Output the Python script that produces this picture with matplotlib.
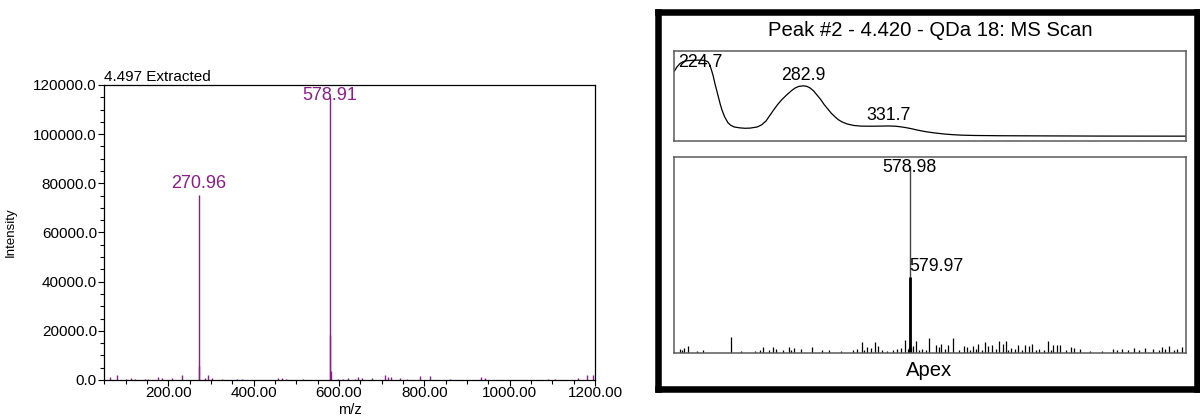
import numpy as np
import matplotlib
matplotlib.use("Agg")
import matplotlib.pyplot as plt
from matplotlib.ticker import MultipleLocator, FormatStrFormatter

plt.rcParams['font.family'] = ['Liberation Sans', 'DejaVu Sans']

purple = '#8C1C8C'

# left spectrum: 4.497 extracted
peak_mz_l = [270.96, 271.96, 578.91, 579.91, 580.9]
peak_h_l = [75300, 5800, 115000, 18500, 3500]
peak_lab_l = ['270.96', '578.91']
noise_mz_l = [63, 79, 102, 112, 122, 145, 153, 177, 185, 208, 231, 286, 294, 302, 325,
              360, 372, 458, 466, 477, 516, 598, 610, 622, 638, 645, 653, 677, 708, 716,
              723, 743, 759, 790, 813, 860, 934, 942, 1091, 1106, 1161, 1181, 1196]
noise_h_l = [1300, 2200, 600, 900, 600, 400, 500, 1300, 700, 1000, 1900, 1000, 2200, 800, 600,
             400, 400, 1000, 700, 500, 400, 600, 500, 1000, 600, 1100, 900, 700, 1900, 1400,
             1100, 900, 500, 1500, 1700, 500, 1300, 700, 400, 500, 1000, 1900, 2200]

# right top: UV spectrum (nm, absorbance)
uv_nm = [210, 211.5, 213.2, 215, 217, 219, 222, 224.7, 227, 229, 230, 231, 232, 233, 234,
         235, 236, 237, 238.5, 240.4, 242, 244, 247, 250, 253, 257, 259.5, 262, 264, 266,
         268.5, 271, 274, 276.5, 278.5, 280.5, 282.9, 285, 287, 289, 291, 293, 295, 297,
         299, 301, 303, 305, 308, 312, 316, 321, 326, 331.7, 336, 340, 344, 348, 352.6,
         357, 363, 368, 372.5, 380, 394.5, 420, 451, 500]
uv_abs = [0.76, 0.81, 0.85, 0.872, 0.882, 0.886, 0.889, 0.89, 0.887, 0.872, 0.84, 0.78,
          0.71, 0.62, 0.54, 0.46, 0.38, 0.31, 0.23, 0.16, 0.13, 0.11, 0.10, 0.095, 0.097,
          0.11, 0.135, 0.18, 0.24, 0.30, 0.37, 0.43, 0.49, 0.535, 0.565, 0.583, 0.59,
          0.585, 0.565, 0.53, 0.48, 0.43, 0.37, 0.32, 0.27, 0.23, 0.195, 0.17, 0.145,
          0.127, 0.12, 0.119, 0.12, 0.122, 0.118, 0.107, 0.092, 0.073, 0.055, 0.042,
          0.028, 0.02, 0.015, 0.011, 0.008, 0.006, 0.004, 0.003]
uv_peaks = [224.7, 282.9, 331.7]

# right bottom: apex MS scan (relative)
ms_mz = [578.98, 579.97]
ms_h = [1.0, 0.407]
ms_noise_mz = [62, 68, 72, 80, 101, 114, 178, 200, 232, 242, 250, 262, 271, 279, 295, 307,
               313, 319, 334, 359, 382, 397, 425, 452, 461, 471, 477, 484, 492, 500, 508,
               516, 528, 541, 551, 560, 568, 576, 577.5, 580.9, 582, 587, 593, 599, 606,
               615, 623, 638, 645, 650, 658, 665, 677, 690, 701, 709, 715, 721, 727, 733,
               741, 748, 756, 764, 772, 780, 788, 795, 801, 807, 816, 823, 831, 839, 847,
               855, 862, 870, 882, 890, 896, 902, 910, 918, 930, 941, 948, 961, 985, 1012,
               1036, 1045, 1056, 1070, 1083, 1095, 1107, 1126, 1140, 1146, 1153, 1162, 1172,
               1180, 1190]
ms_noise_h = [0.02, 0.015, 0.025, 0.035, 0.01, 0.015, 0.085, 0.008, 0.01, 0.012, 0.033,
              0.012, 0.03, 0.02, 0.015, 0.03, 0.012, 0.025, 0.02, 0.03, 0.015, 0.012, 0.01,
              0.012, 0.02, 0.057, 0.015, 0.03, 0.025, 0.06, 0.035, 0.015, 0.01, 0.012, 0.02,
              0.025, 0.07, 0.02, 0.03, 0.06, 0.03, 0.035, 0.062, 0.015, 0.02, 0.015, 0.08,
              0.04, 0.03, 0.045, 0.02, 0.04, 0.077, 0.015, 0.035, 0.03, 0.015, 0.035, 0.02,
              0.045, 0.015, 0.06, 0.035, 0.04, 0.02, 0.062, 0.045, 0.062, 0.015, 0.025,
              0.02, 0.04, 0.015, 0.04, 0.035, 0.045, 0.015, 0.02, 0.012, 0.065, 0.015, 0.04,
              0.04, 0.04, 0.012, 0.03, 0.025, 0.02, 0.01, 0.01, 0.02, 0.015, 0.02, 0.012,
              0.025, 0.012, 0.025, 0.02, 0.015, 0.03, 0.02, 0.035, 0.015, 0.02, 0.03]

fig = plt.figure(figsize=(12, 4.19), dpi=100)

# ---- left chart
ax = fig.add_axes([0.0869, 0.0931, 0.4089, 0.7041])
ax.vlines(noise_mz_l, 0, noise_h_l, color=purple, lw=1)
ax.vlines(peak_mz_l, 0, peak_h_l, color=purple, lw=1)
ax.set_xlim(50, 1200)
ax.set_ylim(0, 120000)
ax.xaxis.set_major_locator(MultipleLocator(200))
ax.xaxis.set_minor_locator(MultipleLocator(50))
ax.yaxis.set_major_locator(MultipleLocator(20000))
ax.yaxis.set_minor_locator(MultipleLocator(5000))
ax.xaxis.set_major_formatter(FormatStrFormatter('%.2f'))
ax.yaxis.set_major_formatter(FormatStrFormatter('%.1f'))
ax.tick_params(which='major', direction='out', length=4.3, width=0.8, labelsize=11, pad=1)
ax.tick_params(which='minor', direction='out', length=2.6, width=0.8)
ax.tick_params(axis='x', which='major', pad=0.3)
ax.set_xticks([x for x in ax.get_xticks() if 200 <= x <= 1200])
for s in ax.spines.values():
    s.set_linewidth(0.9)
ax.set_title('4.497 Extracted', loc='left', fontsize=11, pad=3)
ax.set_xlabel('m/z', fontsize=10.5, labelpad=2)
ax.set_ylabel('Intensity', fontsize=9.5)
ax.yaxis.set_label_coords(-0.178, 0.5)
for mz, h in zip(peak_mz_l, peak_h_l):
    lab = '%.2f' % mz
    if lab in peak_lab_l:
        ax.annotate(lab, (mz, min(h, 111000)), xytext=(0, 5), textcoords='offset points',
                    ha='center', va='baseline', color=purple, fontsize=13)

# ---- right: framed peak report
box = fig.add_axes([0.5486, 0.0723, 0.4487, 0.8983])
box.set_xticks([])
box.set_yticks([])
for s in box.spines.values():
    s.set_linewidth(4.7)
    s.set_color('black')
fig.text(930 / 1200, 1 - 30 / 419, 'Peak #2 - 4.420 - QDa 18: MS Scan',
         ha='center', va='center', fontsize=14.6)
fig.text(929 / 1200, 1 - 371 / 419, 'Apex', ha='center', va='center', fontsize=14.6)

gray = '#5a5a5a'
uv = fig.add_axes([0.5619, 0.6642, 0.4264, 0.2148])
uv.plot(uv_nm, uv_abs, color='black', lw=0.9)
uv.set_xlim(210, 500)
uv.set_ylim(-0.05, 1.0)
uv.set_xticks([])
uv.set_yticks([])
for s in uv.spines.values():
    s.set_linewidth(1.1)
    s.set_color(gray)
for p in uv_peaks:
    v = uv_abs[uv_nm.index(p)]
    uv.annotate('%.1f' % p, (p, min(v, 0.75)), xytext=(0, 4), textcoords='offset points',
                ha='center', va='baseline', fontsize=12.8)

ms = fig.add_axes([0.5619, 0.1582, 0.4264, 0.4678])
ms.vlines(ms_noise_mz, 0, ms_noise_h, color='black', lw=0.9)
ms.vlines(ms_mz, 0, ms_h, color=['#444444', 'black'], lw=[1.0, 2.0])
ms.set_xlim(50, 1200)
ms.set_ylim(0, 1.05)
ms.set_xticks([])
ms.set_yticks([])
for s in ms.spines.values():
    s.set_linewidth(1.1)
    s.set_color(gray)
ms.annotate('%.2f' % ms_mz[0], (ms_mz[0], min(ms_h[0], 0.94)), xytext=(0, 4),
            textcoords='offset points', ha='center', va='baseline', fontsize=12.8)
ms.annotate('%.2f' % ms_mz[1], (ms_mz[0], ms_h[1]), xytext=(-0.5, 4),
            textcoords='offset points', ha='left', va='baseline', fontsize=12.8)

fig.savefig('out.png', dpi=100)
